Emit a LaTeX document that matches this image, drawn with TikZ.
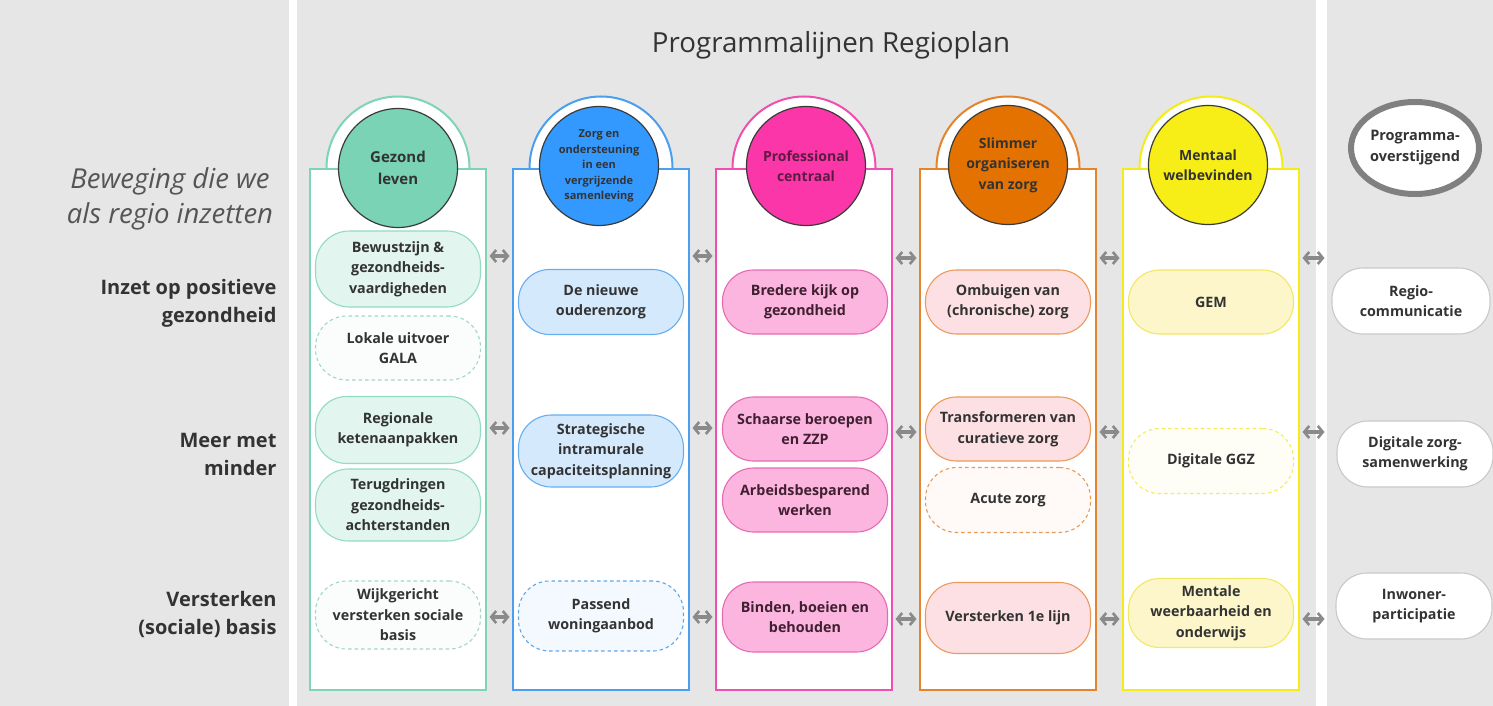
\documentclass[tikz,border=0pt]{standalone}
\usepackage{fontspec}
\setmainfont{Open Sans}
\usetikzlibrary{arrows.meta,shapes.geometric}
\definecolor{bgray}{HTML}{E6E6E6}
\definecolor{txt}{HTML}{333333}
\definecolor{ltxt}{HTML}{555555}
\definecolor{agray}{HTML}{8A8A8A}
\definecolor{cdark}{HTML}{3A3A3A}
% green
\definecolor{gB}{HTML}{7ED5B3}\definecolor{gC}{HTML}{79D3B4}\definecolor{gF}{HTML}{E2F5EE}\definecolor{gP}{HTML}{92DCC0}\definecolor{gD}{HTML}{9FD8C5}\definecolor{gW}{HTML}{FAFDFC}
% blue
\definecolor{bB}{HTML}{4A9FF0}\definecolor{bC}{HTML}{3399FF}\definecolor{bF}{HTML}{D5E9FD}\definecolor{bP}{HTML}{66AEF0}\definecolor{bD}{HTML}{5CA8EE}\definecolor{bW}{HTML}{F3F9FF}
% pink
\definecolor{pB}{HTML}{F04EB0}\definecolor{pC}{HTML}{FB36A8}\definecolor{pF}{HTML}{FBB5DF}\definecolor{pP}{HTML}{E86AB3}\definecolor{pT}{HTML}{3F1F30}\definecolor{pCT}{HTML}{5E1A42}
% orange
\definecolor{oB}{HTML}{E5842D}\definecolor{oC}{HTML}{E37200}\definecolor{oF}{HTML}{FDE0E4}\definecolor{oP}{HTML}{EB9A5C}\definecolor{oD}{HTML}{E89A55}\definecolor{oW}{HTML}{FFFAF8}
% yellow
\definecolor{yB}{HTML}{F4EC1A}\definecolor{yC}{HTML}{F6EE16}\definecolor{yF}{HTML}{FCF6CA}\definecolor{yP}{HTML}{F2E863}\definecolor{yD}{HTML}{F4EC5C}\definecolor{yW}{HTML}{FFFEF6}
\definecolor{rB}{HTML}{C9C9C9}
\definecolor{oring}{HTML}{808080}
\begin{document}
\begin{tikzpicture}[x=1pt,y=-1pt,
  colbox/.style={draw=#1, line width=2pt, fill=white, minimum width=176pt, minimum height=521pt, anchor=north, inner sep=0pt},
  archead/.style={circle, draw=#1, line width=2pt, fill=white, minimum size=143pt, inner sep=0pt},
  headc/.style={circle, draw=cdark, line width=1.2pt, fill=#1, minimum size=119pt, inner sep=0pt, align=center, text=txt, font=\bfseries\fontsize{14}{20.5}\selectfont},
  pill/.style={rectangle, rounded corners=31pt, minimum width=165pt, inner sep=0pt, align=center, text=txt, line width=1.1pt, font=\bfseries\fontsize{14.3}{20.5}\selectfont},
  biarrow/.style={draw=agray, line width=3.4pt, {Straight Barb[length=5pt,width=12pt,line width=2.6pt]}-{Straight Barb[length=5pt,width=12pt,line width=2.6pt]}, shorten <=2.5pt, shorten >=2.5pt},
  rowlab/.style={anchor=east, align=right, text=txt, font=\bfseries\fontsize{20}{28}\selectfont}
]
\useasboundingbox (0,0) rectangle (1493,706);
\fill[white] (0,0) rectangle (1493,706);
\fill[bgray] (0,0) rectangle (289,706);
\fill[bgray] (297,0) rectangle (1316,706);
\fill[bgray] (1327,0) rectangle (1493,706);

\node[font=\fontsize{27.7}{32}\selectfont, text=txt] (title) at (831,45) {Programmalijnen Regioplan};

\node[font=\itshape\fontsize{27.5}{35}\selectfont, text=ltxt, align=center] (beweging) at (170,199) {Beweging die we\\als regio inzetten};
\node[rowlab] (row1) at (280,303) {Inzet op positieve\\gezondheid};
\node[rowlab] (row2) at (280,454) {Meer met\\minder};
\node[rowlab] (row3) at (280,614) {Versterken\\(sociale) basis};

% arcs behind columns
\node[archead=gB] (a1) at (398,168) {};
\node[archead=bB] (a2) at (601,168) {};
\node[archead=pB] (a3) at (804,168) {};
\node[archead=oB] (a4) at (1008,168) {};
\node[archead=yB] (a5) at (1211,168) {};

% columns
\node[colbox=gB] (c1) at (398,168) {};
\node[colbox=bB] (c2) at (601,168) {};
\node[colbox=pB] (c3) at (804,168) {};
\node[colbox=oB] (c4) at (1008,168) {};
\node[colbox=yB] (c5) at (1211,168) {};

% header circles
\node[headc=gC, font=\bfseries\fontsize{15}{22}\selectfont] (h1) at (398,168) {Gezond\\leven};
\node[headc=bC, font=\bfseries\fontsize{11}{15.5}\selectfont] (h2) at (599,166) {Zorg en\\ondersteuning\\in een\\vergrijzende\\samenleving};
\node[headc=pC, text=pCT] (h3) at (806,166) {Professional\\centraal};
\node[headc=oC] (h4) at (1008,165) {Slimmer\\organiseren\\van zorg};
\node[headc=yC] (h5) at (1208,165) {Mentaal\\welbevinden};

% programma-overstijgend
\node[ellipse, draw=oring, line width=6pt, fill=white, minimum width=128pt, minimum height=92pt, inner sep=0pt, align=center, text=txt, font=\bfseries\fontsize{14.5}{21}\selectfont] (po) at (1415,148) {Programma-\\overstijgend};

% column 1
\node[pill, fill=gF, draw=gP, minimum height=76pt, rounded corners=34pt] (p11) at (398,269) {Bewustzijn \&\\gezondheids-\\vaardigheden};
\node[pill, fill=gW, draw=gD, dashed, dash pattern=on 3.5pt off 3pt, minimum height=64pt] (p12) at (398,348) {Lokale uitvoer\\GALA};
\node[pill, fill=gF, draw=gP, minimum height=67pt] (p13) at (398,430) {Regionale\\ketenaanpakken};
\node[pill, fill=gF, draw=gP, minimum height=72pt, rounded corners=33pt] (p14) at (398,505) {Terugdringen\\gezondheids-\\achterstanden};
\node[pill, fill=gW, draw=gD, dashed, dash pattern=on 3.5pt off 3pt, minimum height=68pt] (p15) at (398,615) {Wijkgericht\\versterken sociale\\basis};

% column 2
\node[pill, fill=bF, draw=bP, minimum height=65pt] (p21) at (601,302) {De nieuwe\\ouderenzorg};
\node[pill, fill=bF, draw=bP, minimum height=72pt, rounded corners=33pt] (p22) at (601,451) {Strategische\\intramurale\\capaciteitsplanning};
\node[pill, fill=bW, draw=bD, dashed, dash pattern=on 3.5pt off 3pt, minimum height=70pt] (p23) at (601,616) {Passend\\woningaanbod};

% column 3
\node[pill, fill=pF, draw=pP, text=pT, minimum height=64pt] (p31) at (805,302) {Bredere kijk op\\gezondheid};
\node[pill, fill=pF, draw=pP, text=pT, minimum height=64pt] (p32) at (805,429) {Schaarse beroepen\\en ZZP};
\node[pill, fill=pF, draw=pP, text=pT, minimum height=64pt] (p33) at (805,500) {Arbeidsbesparend\\werken};
\node[pill, fill=pF, draw=pP, text=pT, minimum height=70pt] (p34) at (805,617) {Binden, boeien en\\behouden};

% column 4
\node[pill, fill=oF, draw=oP, minimum height=64pt] (p41) at (1008,302) {Ombuigen van\\(chronische) zorg};
\node[pill, fill=oF, draw=oP, minimum height=64pt] (p42) at (1008,429) {Transformeren van\\curatieve zorg};
\node[pill, fill=oW, draw=oD, dashed, dash pattern=on 3.5pt off 3pt, minimum height=65pt] (p43) at (1008,500) {Acute zorg};
\node[pill, fill=oF, draw=oP, minimum height=71pt] (p44) at (1008,618) {Versterken 1e lijn};

% column 5
\node[pill, fill=yF, draw=yP, minimum height=64pt] (p51) at (1211,302) {GEM};
\node[pill, fill=yW, draw=yD, dashed, dash pattern=on 3.5pt off 3pt, minimum height=65pt] (p52) at (1211,461) {Digitale GGZ};
\node[pill, fill=yF, draw=yP, minimum height=69pt] (p53) at (1211,613) {Mentale\\weerbaarheid en\\onderwijs};

% right column
\node[pill, fill=white, draw=rB, minimum width=158pt, minimum height=66pt] (r1) at (1411,301) {Regio-\\communicatie};
\node[pill, fill=white, draw=rB, minimum width=156pt, minimum height=66pt] (r2) at (1415,454) {Digitale zorg-\\samenwerking};
\node[pill, fill=white, draw=rB, minimum width=156pt, minimum height=66pt] (r3) at (1414,606) {Inwoner-\\participatie};

% arrow rows
\coordinate (ya) at (0,256);
\coordinate (yb) at (0,258);
\coordinate (yc) at (0,428);
\coordinate (yd) at (0,432);
\coordinate (ye) at (0,617);
\coordinate (yf) at (0,619);
\coordinate (rp) at (1327,0);

\draw[biarrow] (c1.east |- ya) -- (c2.west |- ya);
\draw[biarrow] (c2.east |- ya) -- (c3.west |- ya);
\draw[biarrow] (c3.east |- yb) -- (c4.west |- yb);
\draw[biarrow] (c4.east |- yb) -- (c5.west |- yb);
\draw[biarrow] (c5.east |- yb) -- (rp |- yb);

\draw[biarrow] (c1.east |- yc) -- (c2.west |- yc);
\draw[biarrow] (c2.east |- yc) -- (c3.west |- yc);
\draw[biarrow] (c3.east |- yd) -- (c4.west |- yd);
\draw[biarrow] (c4.east |- yd) -- (c5.west |- yd);
\draw[biarrow] (c5.east |- yd) -- (rp |- yd);

\draw[biarrow] (c1.east |- ye) -- (c2.west |- ye);
\draw[biarrow] (c2.east |- ye) -- (c3.west |- ye);
\draw[biarrow] (c3.east |- yf) -- (c4.west |- yf);
\draw[biarrow] (c4.east |- yf) -- (c5.west |- yf);
\draw[biarrow] (c5.east |- yf) -- (rp |- yf);
\end{tikzpicture}
\end{document}
